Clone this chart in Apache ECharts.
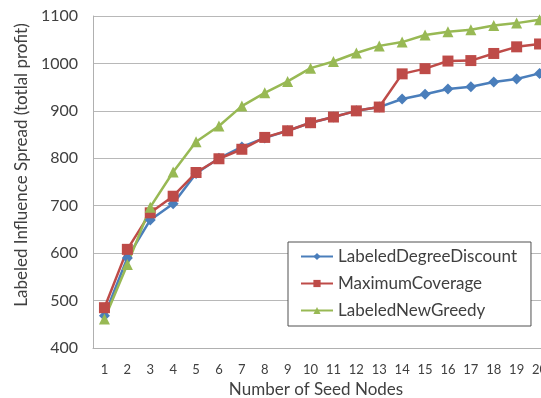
<!DOCTYPE html>
<html>
<head>
<meta charset="utf-8">
<script src="https://cdn.jsdelivr.net/npm/echarts@6/dist/echarts.min.js"></script>
<style>html,body{margin:0;padding:0;background:#fff;}#c{width:541px;height:398px;}</style>
</head>
<body>
<div id="c"></div>
<script>
const categories = ['1','2','3','4','5','6','7','8','9','10','11','12','13','14','15','16','17','18','19','20'];
const labeledDegreeDiscount = [468, 590, 670, 704, 768, 800, 824, 843, 858, 875, 887, 900, 908, 925, 935, 946, 951, 961, 967, 979];
const maximumCoverage = [485, 608, 685, 720, 770, 799, 819, 844, 858, 875, 887, 900, 908, 978, 989, 1005, 1006, 1021, 1035, 1041];
const labeledNewGreedy = [461, 576, 697, 771, 835, 868, 910, 938, 962, 990, 1004, 1022, 1037, 1045, 1060, 1067, 1071, 1080, 1085, 1092];
const yTicks = {min: 400, max: 1100, interval: 100};

const font = 'Lato, "Open Sans", sans-serif';
const chart = echarts.init(document.getElementById('c'));
function mk(name, data, color, symbol, size) {
  return {
    name: name, type: 'line', data: data, symbol: symbol, symbolSize: size,
    lineStyle: {color: color, width: 2.5}, itemStyle: {color: color},
    clip: false, animation: false
  };
}
chart.setOption({
  animation: false,
  backgroundColor: '#fff',
  grid: {left: 93, top: 16, height: 332, width: 458, outerBoundsMode: 'none', containLabel: false},
  xAxis: {
    type: 'category', data: categories, boundaryGap: true,
    axisLine: {lineStyle: {color: '#b0b0b0', width: 1}},
    axisTick: {show: false},
    axisLabel: {color: '#404040', fontFamily: font, fontSize: 13, margin: 15, interval: 0},
    name: 'Number of Seed Nodes', nameLocation: 'middle', nameGap: 28,
    nameTextStyle: {color: '#404040', fontFamily: font, fontSize: 17, padding: [0, 12, 0, 0]}
  },
  yAxis: {
    type: 'value', min: yTicks.min, max: yTicks.max, interval: yTicks.interval,
    axisLine: {show: true, lineStyle: {color: '#b0b0b0', width: 1}},
    axisTick: {show: false},
    splitLine: {lineStyle: {color: '#b8b8b8', width: 1}},
    axisLabel: {color: '#404040', fontFamily: font, fontSize: 16, margin: 15, formatter: function (v) { return String(v); }},
    name: 'Labeled Influence Spread (totlal profit)', nameLocation: 'middle', nameGap: 63,
    nameTextStyle: {color: '#404040', fontFamily: font, fontSize: 17, padding: [0, 0, 0, 34]}
  },
  legend: {
    orient: 'vertical', left: 288, top: 242,
    backgroundColor: '#fff', borderColor: '#505050', borderWidth: 1,
    padding: [6, 14, 7, 12], itemGap: 10, itemWidth: 32, itemHeight: 9,
    textStyle: {color: '#404040', fontFamily: font, fontSize: 17, lineHeight: 17},
    data: ['LabeledDegreeDiscount', 'MaximumCoverage', 'LabeledNewGreedy']
  },
  series: [
    mk('LabeledDegreeDiscount', labeledDegreeDiscount, '#4a7ebb', 'diamond', 11),
    mk('MaximumCoverage', maximumCoverage, '#be4b48', 'rect', 11),
    mk('LabeledNewGreedy', labeledNewGreedy, '#98b954', 'triangle', 11)
  ]
});
</script>
</body>
</html>
